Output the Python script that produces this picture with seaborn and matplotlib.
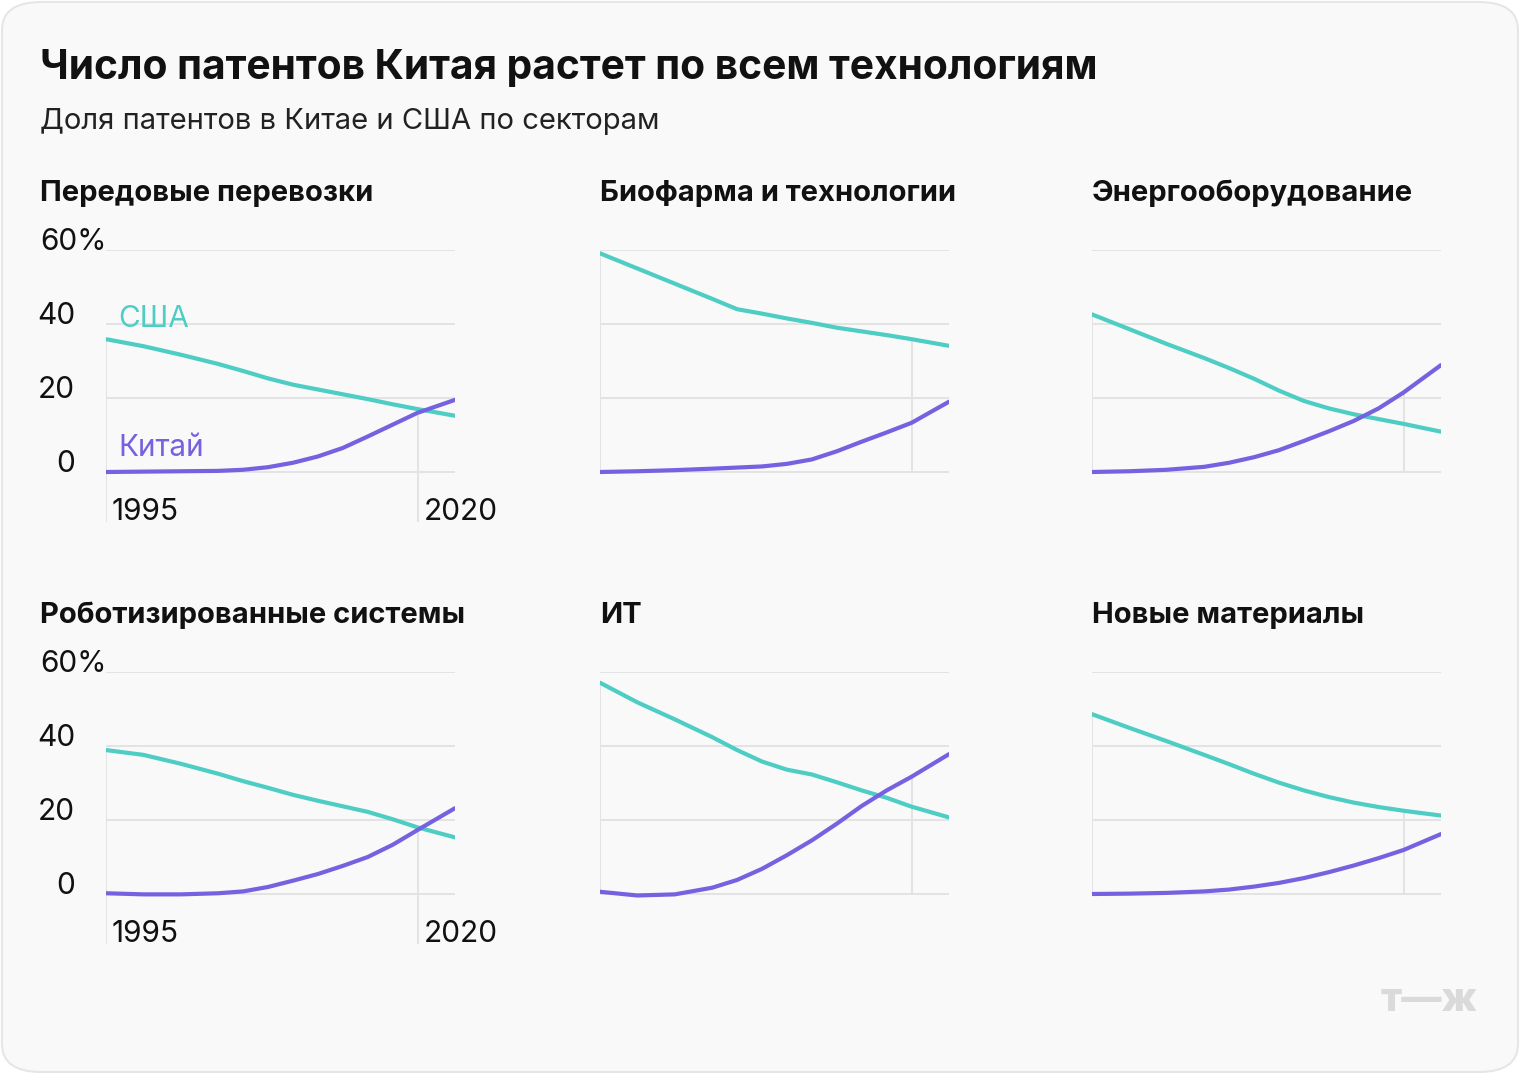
import matplotlib.pyplot as plt
import seaborn as sns
import pandas as pd
from matplotlib.patches import FancyBboxPatch

# --- data (share of patents, %) ---
years = [1995, 1998, 2001, 2004, 2006, 2008, 2010, 2012, 2014, 2016, 2018, 2020, 2023]

sectors = ["Передовые перевозки", "Биофарма и технологии", "Энергооборудование",
           "Роботизированные системы", "ИТ", "Новые материалы"]

usa_transport = [35.9, 34.0, 31.7, 29.2, 27.3, 25.3, 23.6, 22.3, 21.0, 19.7, 18.3, 17.0, 15.2]
china_transport = [0.0, 0.1, 0.2, 0.3, 0.6, 1.3, 2.5, 4.2, 6.5, 9.6, 12.8, 16.0, 19.5]

usa_biopharma = [59.1, 55.0, 50.9, 46.8, 44.0, 42.8, 41.5, 40.3, 39.0, 38.0, 37.0, 35.9, 34.1]
china_biopharma = [0.0, 0.2, 0.5, 0.9, 1.2, 1.5, 2.2, 3.4, 5.6, 8.2, 10.7, 13.3, 19.0]

usa_energy = [42.6, 38.6, 34.6, 30.8, 28.1, 25.2, 22.0, 19.2, 17.2, 15.6, 14.3, 13.0, 10.9]
china_energy = [0.0, 0.2, 0.6, 1.4, 2.5, 4.0, 5.9, 8.4, 11.0, 13.8, 17.2, 21.5, 28.9]

usa_robots = [38.9, 37.6, 35.2, 32.5, 30.5, 28.7, 26.8, 25.2, 23.7, 22.2, 20.2, 18.0, 15.3]
china_robots = [0.2, -0.1, -0.1, 0.2, 0.7, 1.9, 3.6, 5.4, 7.6, 10.0, 13.3, 17.3, 23.2]

usa_it = [57.1, 51.8, 47.2, 42.4, 38.9, 35.8, 33.6, 32.3, 30.2, 28.0, 26.0, 23.6, 20.7]
china_it = [0.6, -0.4, -0.1, 1.7, 3.8, 6.8, 10.5, 14.5, 19.0, 23.8, 28.0, 31.7, 37.8]

usa_materials = [48.6, 44.9, 41.3, 37.6, 35.1, 32.5, 30.1, 28.0, 26.2, 24.7, 23.5, 22.5, 21.2]
china_materials = [0.0, 0.1, 0.3, 0.7, 1.2, 2.0, 3.0, 4.3, 5.9, 7.7, 9.7, 11.9, 16.2]

usa_series = [usa_transport, usa_biopharma, usa_energy, usa_robots, usa_it, usa_materials]
china_series = [china_transport, china_biopharma, china_energy, china_robots, china_it, china_materials]

y_ticks = [0, 20, 40, 60]
x_ticks = [1995, 2020]

USA_COLOR = "#4ecdc4"
CHINA_COLOR = "#7562e0"
GRID_COLOR = "#e3e3e3"
BG = "#f9f9f9"

rows = []
for name, usa, china in zip(sectors, usa_series, china_series):
    for y, u, c in zip(years, usa, china):
        rows.append({"sector": name, "year": y, "country": "США", "share": u})
        rows.append({"sector": name, "year": y, "country": "Китай", "share": c})
df = pd.DataFrame(rows)

sns.set_theme(style="white")
plt.rcParams["font.family"] = ["Inter", "DejaVu Sans"]

W, H = 1520, 1074
fig = plt.figure(figsize=(W / 100, H / 100), dpi=100, facecolor="white")

card = FancyBboxPatch((2 / W, 2 / H), (W - 4) / W, (H - 4) / H,
                      boxstyle="round,pad=0,rounding_size=0.026",
                      transform=fig.transFigure, facecolor=BG, edgecolor="#e6e6e6",
                      linewidth=1.5, zorder=-5)
fig.patches.append(card)


def fx(px):
    return px / W


def fy(px):
    return 1 - px / H


fig.text(fx(40), fy(79), "Число патентов Китая растет по всем технологиям",
         fontsize=29.3, fontweight="bold", color="#111111", va="baseline")
fig.text(fx(40), fy(129), "Доля патентов в Китае и США по секторам",
         fontsize=21, color="#222222", va="baseline")

col_left = [106, 600, 1092]
title_x = [40, 600, 1092]
row_top = [250, 672]
px_per_unit = 3.7
ymin, ymax = -13.5, 60
ax_w = 349
ax_h = (ymax - ymin) * px_per_unit
x_end = years[-1]
i2020 = years.index(2020)
tick_size = 21.5

for k, name in enumerate(sectors):
    r, c = divmod(k, 3)
    left, top = col_left[c], row_top[r]
    ax = fig.add_axes([fx(left), fy(top + ax_h), fx(ax_w), ax_h / H])
    ax.set_facecolor("none")
    ax.set_zorder(2)
    sub = df[df["sector"] == name]

    first_col = c == 0
    low = ymin if first_col else 0

    ax.hlines(y_ticks, 1995, x_end, color=GRID_COLOR, lw=1.4, zorder=1)
    usa, china = usa_series[k], china_series[k]
    ax.vlines(1995, low, max(usa[0], china[0]), color=GRID_COLOR, lw=1.4, zorder=1)
    ax.vlines(2020, low, max(usa[i2020], china[i2020]), color=GRID_COLOR, lw=1.4, zorder=1)

    sns.lineplot(data=sub, x="year", y="share", hue="country",
                 palette={"США": USA_COLOR, "Китай": CHINA_COLOR},
                 linewidth=3.0, legend=False, ax=ax, zorder=3)

    ax.set_xlim(1995, x_end)
    ax.set_ylim(ymin, ymax)
    ax.set_axis_off()

    fig.text(fx(title_x[c]), fy(top - 49), name, fontsize=21, fontweight="bold",
             color="#111111", va="baseline")

    if first_col:
        tr = ax.get_yaxis_transform()
        for t in y_ticks:
            if t == 60:
                ax.text((40 - left) / ax_w, t, "60%", transform=tr, ha="left",
                        va="baseline", fontsize=tick_size, color="#111111")
            else:
                ax.text((75 - left) / ax_w, t, str(t), transform=tr, ha="right",
                        va="baseline", fontsize=tick_size, color="#111111")
        for xt in x_ticks:
            ax.annotate(str(xt), (xt, -13), xytext=(6, 0), textcoords="offset pixels",
                        ha="left", va="baseline", fontsize=tick_size, color="#111111",
                        annotation_clip=False)

    if k == 0:
        ax.annotate("США", (1995, 39.2), xytext=(12, 0), textcoords="offset pixels",
                    ha="left", va="baseline", fontsize=21.5, color=USA_COLOR)
        ax.annotate("Китай", (1995, 4.3), xytext=(12, 0), textcoords="offset pixels",
                    ha="left", va="baseline", fontsize=21.5, color=CHINA_COLOR)

fig.text(fx(1478), fy(1011), "т—ж", fontsize=29, fontweight="heavy",
         color="#dadada", ha="right", va="baseline")

fig.savefig("out.png", dpi=100, facecolor="white")
